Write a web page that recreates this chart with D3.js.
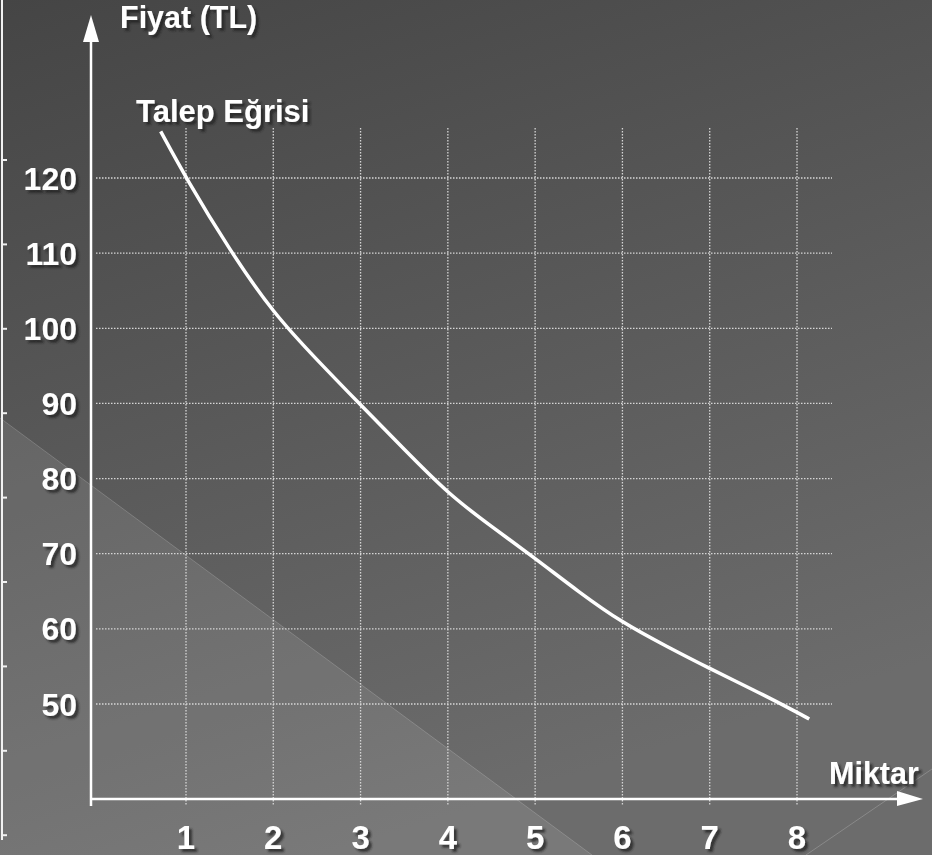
<!DOCTYPE html>
<html>
<head>
<meta charset="utf-8">
<script src="https://cdn.jsdelivr.net/npm/d3@7"></script>
<style>
  html, body { margin: 0; padding: 0; background: #555; }
  svg { display: block; }
  text { font-family: "Liberation Sans", Arial, sans-serif; font-weight: bold; fill: #fff; }
</style>
</head>
<body>
<svg id="chart" width="932" height="855"></svg>
<script>
// Demand curve: quantity (Miktar) vs price (Fiyat, TL)
const quantity = [0.71, 1, 1.5, 2, 2.5, 3, 3.5, 4, 4.5, 5, 5.5, 6, 6.5, 7, 7.5, 8, 8.14];
const price    = [126.2, 120, 110.4, 102, 95.8, 89.8, 83.9, 78, 73.6, 69.4, 64.9, 60.8, 57.7, 54.7, 51.9, 48.9, 48.0];

const xTicks = [1, 2, 3, 4, 5, 6, 7, 8];
const yTicks = [120, 110, 100, 90, 80, 70, 60, 50];

const yAxisTitle = "Fiyat (TL)";
const xAxisTitle = "Miktar";
const curveLabel = "Talep Eğrisi";

const W = 932, H = 855;
const svg = d3.select("#chart");

// Frame of the plot: axis origin and grid extents
const originX = 91, originY = 799;
const gridTop = 128, gridBottom = 806;
const gridLeft = 96, gridRight = 832;

const x = d3.scaleLinear().domain([1, 8]).range([186, 797]);
const y = d3.scaleLinear().domain([50, 120]).range([704, 178]);

const defs = svg.append("defs");

const bg = defs.append("linearGradient")
  .attr("id", "bg").attr("x1", "0").attr("y1", "0").attr("x2", "0.35").attr("y2", "1");
bg.append("stop").attr("offset", "0").attr("stop-color", "#454545");
bg.append("stop").attr("offset", "1").attr("stop-color", "#6c6c6c");

const shadow = defs.append("filter").attr("id", "txtShadow")
  .attr("x", "-10%").attr("y", "-20%").attr("width", "130%").attr("height", "150%");
shadow.append("feGaussianBlur").attr("in", "SourceAlpha").attr("stdDeviation", 1.2).attr("result", "b");
shadow.append("feOffset").attr("in", "b").attr("dx", 2.5).attr("dy", 2.5).attr("result", "o");
shadow.append("feFlood").attr("flood-color", "#202020").attr("flood-opacity", 0.75).attr("result", "c");
shadow.append("feComposite").attr("in", "c").attr("in2", "o").attr("operator", "in").attr("result", "s");
const merge = shadow.append("feMerge");
merge.append("feMergeNode").attr("in", "s");
merge.append("feMergeNode").attr("in", "SourceGraphic");

// Background
svg.append("rect").attr("width", W).attr("height", H).attr("fill", "url(#bg)");

// Lighter diagonal panel in the lower-left corner
svg.append("path")
  .attr("d", `M0,418 L592,${H} L0,${H} Z`)
  .attr("fill", "rgba(255,255,255,0.09)");
svg.append("line")
  .attr("x1", 0).attr("y1", 418).attr("x2", 592).attr("y2", H)
  .attr("stroke", "rgba(255,255,255,0.18)").attr("stroke-width", 1);
svg.append("line")
  .attr("x1", 806).attr("y1", H).attr("x2", W).attr("y2", 769)
  .attr("stroke", "rgba(255,255,255,0.2)").attr("stroke-width", 1);

// Ruler along the left edge
const ruler = svg.append("g").attr("stroke", "#f2f2f2").attr("stroke-width", 2);
ruler.append("line").attr("x1", 2).attr("y1", 0).attr("x2", 2).attr("y2", 840);
ruler.selectAll("line.tick")
  .data(d3.range(9).map(i => 160 + i * 84.4))
  .join("line").attr("class", "tick")
  .attr("x1", 2).attr("x2", 7)
  .attr("y1", d => d).attr("y2", d => d);

// Dotted grid
const grid = svg.append("g")
  .attr("stroke", "#d6d6d6").attr("stroke-width", 1.3)
  .attr("stroke-dasharray", "1.5,1.5").attr("fill", "none");
grid.selectAll("line.v").data(xTicks).join("line").attr("class", "v")
  .attr("x1", d => x(d)).attr("x2", d => x(d))
  .attr("y1", gridTop).attr("y2", gridBottom);
grid.selectAll("line.h").data(yTicks).join("line").attr("class", "h")
  .attr("x1", gridLeft).attr("x2", gridRight)
  .attr("y1", d => y(d)).attr("y2", d => y(d));

// Axes with arrowheads
const axes = svg.append("g");
axes.append("line")
  .attr("x1", originX).attr("y1", 806).attr("x2", originX).attr("y2", 40)
  .attr("stroke", "#fff").attr("stroke-width", 2.5);
axes.append("path")
  .attr("d", `M${originX - 8},42 L${originX},15 L${originX + 8},42 Z`)
  .attr("fill", "#fff");
axes.append("line")
  .attr("x1", originX).attr("y1", originY).attr("x2", 900).attr("y2", originY)
  .attr("stroke", "#fff").attr("stroke-width", 2.5);
axes.append("path")
  .attr("d", `M897,${originY - 8} L923,${originY} L897,${originY + 7} Z`)
  .attr("fill", "#fff");

// Demand curve (B-spline through the sampled points)
const pts = quantity.map((q, i) => [q, price[i]]);
svg.append("path")
  .datum(pts)
  .attr("fill", "none")
  .attr("stroke", "#fff")
  .attr("stroke-width", 3.5)
  .attr("d", d3.line().x(d => x(d[0])).y(d => y(d[1])).curve(d3.curveBasis));

// Tick labels
const labels = svg.append("g").attr("filter", "url(#txtShadow)");
labels.selectAll("text.y").data(yTicks).join("text").attr("class", "y")
  .attr("x", 77).attr("y", d => y(d)).attr("dy", "0.36em")
  .attr("text-anchor", "end").attr("font-size", 32)
  .text(d => d);
labels.selectAll("text.x").data(xTicks).join("text").attr("class", "x")
  .attr("x", d => x(d)).attr("y", 849)
  .attr("text-anchor", "middle").attr("font-size", 33)
  .text(d => d);

// Titles
labels.append("text").attr("x", 120).attr("y", 28).attr("font-size", 30.5).text(yAxisTitle);
labels.append("text").attr("x", 829).attr("y", 784).attr("font-size", 30.5).text(xAxisTitle);
labels.append("text").attr("x", 136).attr("y", 122).attr("font-size", 31).text(curveLabel);
</script>
</body>
</html>
